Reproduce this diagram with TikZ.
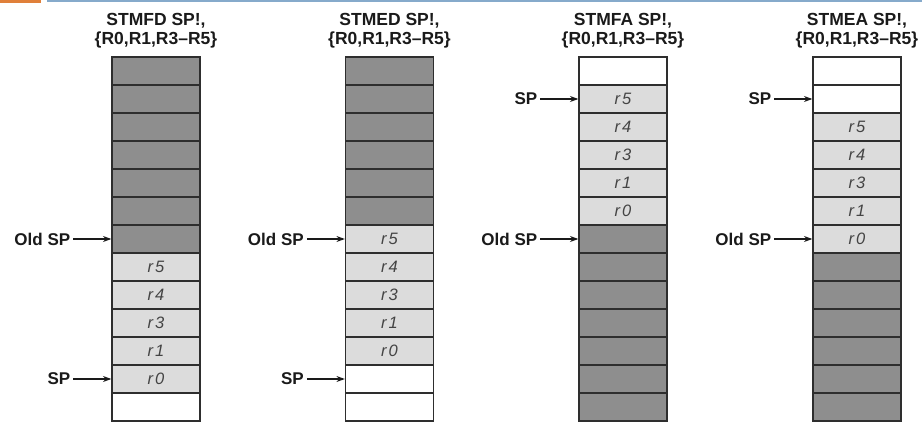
\documentclass[tikz,border=0pt]{standalone}
\usepackage{fontspec}
\setmainfont{Liberation Sans}
\usetikzlibrary{arrows.meta, positioning}
\definecolor{dkcell}{HTML}{8E8E8E}
\definecolor{ltcell}{HTML}{DCDCDC}
\definecolor{edge}{HTML}{2E2E2E}
\definecolor{regtxt}{HTML}{444444}
\definecolor{inkblk}{HTML}{1A1A1A}
\definecolor{tabor}{HTML}{E0803A}
\definecolor{rulebl}{HTML}{86AACB}

\newcommand{\rg}[1]{\textit{r\hspace{2pt}#1}}

\begin{document}
\begin{tikzpicture}[x=1pt, y=-1pt,
  >={Stealth[length=8.5pt, width=6pt]},
  cell/.style={draw=edge, line width=1.2pt, minimum width=88pt,
    minimum height=28pt, inner sep=0pt,
    font=\fontsize{16.5}{18}\selectfont, text=regtxt},
  dk/.style={cell, fill=dkcell},
  lt/.style={cell, fill=ltcell},
  wt/.style={cell, fill=white},
  title/.style={font=\bfseries\fontsize{17.5}{19}\selectfont, text=inkblk,
    align=center, inner sep=0pt},
  ptrlbl/.style={font=\bfseries\fontsize{17}{20}\selectfont, text=inkblk,
    inner sep=3pt},
  ptr/.style={->, line width=1.1pt, inkblk},
]
\useasboundingbox (0,0) rectangle (922,423);

% Page header marks
\fill[tabor] (0,0) rectangle (41,3);
\draw[rulebl, line width=1.5pt] (47,1) -- (922,1);

% ---- Stack 1: full descending ----
\foreach \f/\t [count=\i from 0] in {dk/,dk/,dk/,dk/,dk/,dk/,dk/,
    lt/\rg{5},lt/\rg{4},lt/\rg{3},lt/\rg{1},lt/\rg{0},wt/}
  \node[\f] (A\i) at (156, 71+28*\i) {\t};
\node[title, above=8pt of A0] (tA) {STMFD SP!,\\\{R0,R1,R3--R5\}};
\node[ptrlbl, left=38pt of A6.west] (oldA) {Old SP};
\node[ptrlbl, left=38pt of A11.west] (spA) {SP};
\draw[ptr] (oldA) -- (A6);
\draw[ptr] (spA) -- (A11);

% ---- Stack 2: empty descending ----
\foreach \f/\t [count=\i from 0] in {dk/,dk/,dk/,dk/,dk/,dk/,
    lt/\rg{5},lt/\rg{4},lt/\rg{3},lt/\rg{1},lt/\rg{0},wt/,wt/}
  \node[\f] (B\i) at (389.5, 71+28*\i) {\t};
\node[title, above=8pt of B0] (tB) {STMED SP!,\\\{R0,R1,R3--R5\}};
\node[ptrlbl, left=38pt of B6.west] (oldB) {Old SP};
\node[ptrlbl, left=38pt of B11.west] (spB) {SP};
\draw[ptr] (oldB) -- (B6);
\draw[ptr] (spB) -- (B11);

% ---- Stack 3: full ascending ----
\foreach \f/\t [count=\i from 0] in {wt/,
    lt/\rg{5},lt/\rg{4},lt/\rg{3},lt/\rg{1},lt/\rg{0},
    dk/,dk/,dk/,dk/,dk/,dk/,dk/}
  \node[\f] (C\i) at (623, 71+28*\i) {\t};
\node[title, above=8pt of C0] (tC) {STMFA SP!,\\\{R0,R1,R3--R5\}};
\node[ptrlbl, left=38pt of C1.west] (spC) {SP};
\node[ptrlbl, left=38pt of C6.west] (oldC) {Old SP};
\draw[ptr] (spC) -- (C1);
\draw[ptr] (oldC) -- (C6);

% ---- Stack 4: empty ascending ----
\foreach \f/\t [count=\i from 0] in {wt/,wt/,
    lt/\rg{5},lt/\rg{4},lt/\rg{3},lt/\rg{1},lt/\rg{0},
    dk/,dk/,dk/,dk/,dk/,dk/}
  \node[\f] (D\i) at (857, 71+28*\i) {\t};
\node[title, above=8pt of D0] (tD) {STMEA SP!,\\\{R0,R1,R3--R5\}};
\node[ptrlbl, left=38pt of D1.west] (spD) {SP};
\node[ptrlbl, left=38pt of D6.west] (oldD) {Old SP};
\draw[ptr] (spD) -- (D1);
\draw[ptr] (oldD) -- (D6);

\end{tikzpicture}
\end{document}
